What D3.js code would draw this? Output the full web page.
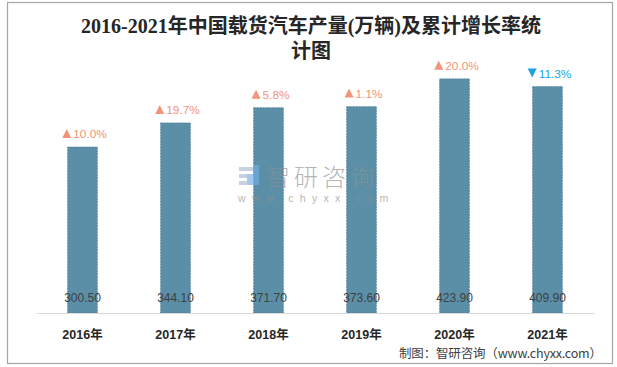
<!DOCTYPE html>
<html><head><meta charset="utf-8">
<script src="https://cdn.jsdelivr.net/npm/d3@7/dist/d3.min.js"></script>
<style>
html,body{margin:0;padding:0;background:#fff;}
svg{display:block;}
</style></head>
<body>
<svg id="chart" width="617" height="367"></svg>
<script>
const years = ["2016年","2017年","2018年","2019年","2020年","2021年"];
const production = [300.50, 344.10, 371.70, 373.60, 423.90, 409.90];
const growth = [10.0, 19.7, 5.8, 1.1, 20.0, -11.3];
const titleLines = ["2016-2021年中国载货汽车产量(万辆)及累计增长率统", "计图"];
const sourceText = "制图：智研咨询（www.chyxx.com）";

const svg = d3.select("#chart");

// frame
svg.append("rect").attr("x", 7.5).attr("y", 2.5).attr("width", 605).attr("height", 361)
  .attr("fill", "#fff").attr("stroke", "#a6a6a6").attr("stroke-width", 1.2);

const x = d3.scaleBand().domain(years).range([36, 594]).paddingInner(0.68).paddingOuter(0.34);
const y = d3.scaleLinear().domain([0, 500]).range([313, 36.8]);

// title
const title = svg.append("text").attr("x", 311).attr("text-anchor", "middle")
  .attr("font-family", "'Liberation Serif','Noto Sans CJK SC',serif")
  .attr("font-size", 20).attr("font-weight", "bold").attr("fill", "#262626");
titleLines.forEach((t, i) => {
  title.append("tspan").attr("x", 311).attr("y", 33 + i * 25).text(t);
});

// bars
svg.append("g").selectAll("rect").data(production).join("rect")
  .attr("x", (d, i) => x(years[i]))
  .attr("y", d => y(d))
  .attr("width", x.bandwidth())
  .attr("height", d => y(0) - y(d))
  .attr("fill", "#5b8fa8")
  .attr("stroke", "#4a7d96").attr("stroke-width", 0.7).attr("stroke-dasharray", "2,1");

// watermark (on top, semi-transparent)
const wm = svg.append("g").attr("opacity", 0.65);
wm.append("rect").attr("x", 239).attr("y", 167).attr("width", 14).attr("height", 4).attr("fill", "#aebbd2");
wm.append("rect").attr("x", 239).attr("y", 174).attr("width", 10).attr("height", 4).attr("fill", "#aebbd2");
wm.append("rect").attr("x", 239).attr("y", 181).attr("width", 14).attr("height", 4).attr("fill", "#aebbd2");
wm.append("rect").attr("x", 253).attr("y", 165).attr("width", 6).attr("height", 20).attr("fill", "#6fb0e6");
wm.append("rect").attr("x", 247).attr("y", 174).attr("width", 6).attr("height", 11).attr("fill", "#6fb0e6");
wm.append("text").attr("x", 266).attr("y", 186).attr("font-family", "'Noto Sans CJK SC',sans-serif")
  .attr("font-size", 24).attr("font-weight", 300).attr("fill", "#8f8f8f").attr("letter-spacing", 4).text("智研咨询");
wm.append("text").attr("x", 238).attr("y", 202).attr("font-family", "'Liberation Sans',sans-serif")
  .attr("font-size", 10.5).attr("fill", "#8f8f8f").attr("letter-spacing", 6.3).text("www.chyxx.com");

// axis
const xAxis = svg.append("g").attr("transform", `translate(0,${y(0)})`)
  .call(d3.axisBottom(x).tickSize(0).tickPadding(17));
xAxis.select(".domain").attr("stroke", "#d9d9d9").attr("stroke-width", 1.2);
xAxis.selectAll("text").attr("font-family", "'Liberation Sans','Noto Sans CJK SC',sans-serif")
  .attr("font-size", 12.5).attr("font-weight", "bold").attr("fill", "#262626");

// value labels
svg.append("g").selectAll("text").data(production).join("text")
  .attr("x", (d, i) => x(years[i]) + x.bandwidth() / 2)
  .attr("y", 302)
  .attr("text-anchor", "middle")
  .attr("font-family", "'Liberation Sans',sans-serif")
  .attr("font-size", 12).attr("fill", "#404040")
  .text(d => d.toFixed(2));

// growth labels
growth.forEach((g, i) => {
  const up = g >= 0;
  const col = up ? "#f2937b" : "#1aa3e0";
  const cx = x(years[i]) + x.bandwidth() / 2;
  const by = y(production[i]) - 9;
  const grp = svg.append("g");
  const t = grp.append("text").attr("y", by)
    .attr("font-family", "'Liberation Sans',sans-serif")
    .attr("font-size", 11.8).attr("fill", col)
    .text(Math.abs(g).toFixed(1) + "%");
  const tw = t.node().getComputedTextLength();
  const triW = 9, gap = 2;
  const total = triW + gap + tw;
  const x0 = cx - total / 2 + 2;
  t.attr("x", x0 + triW + gap);
  const tri = up
    ? [[x0, by], [x0 + triW, by], [x0 + triW / 2, by - 9]]
    : [[x0, by - 9], [x0 + triW, by - 9], [x0 + triW / 2, by]];
  grp.append("path").attr("d", d3.line()(tri) + "Z").attr("fill", col);
});

// source
svg.append("text").attr("x", 602).attr("y", 358).attr("text-anchor", "end")
  .attr("font-family", "'Noto Sans CJK SC',sans-serif")
  .attr("font-size", 12.5).attr("fill", "#404040")
  .attr("textLength", 203).attr("lengthAdjust", "spacing")
  .text(sourceText);
</script>
</body></html>
